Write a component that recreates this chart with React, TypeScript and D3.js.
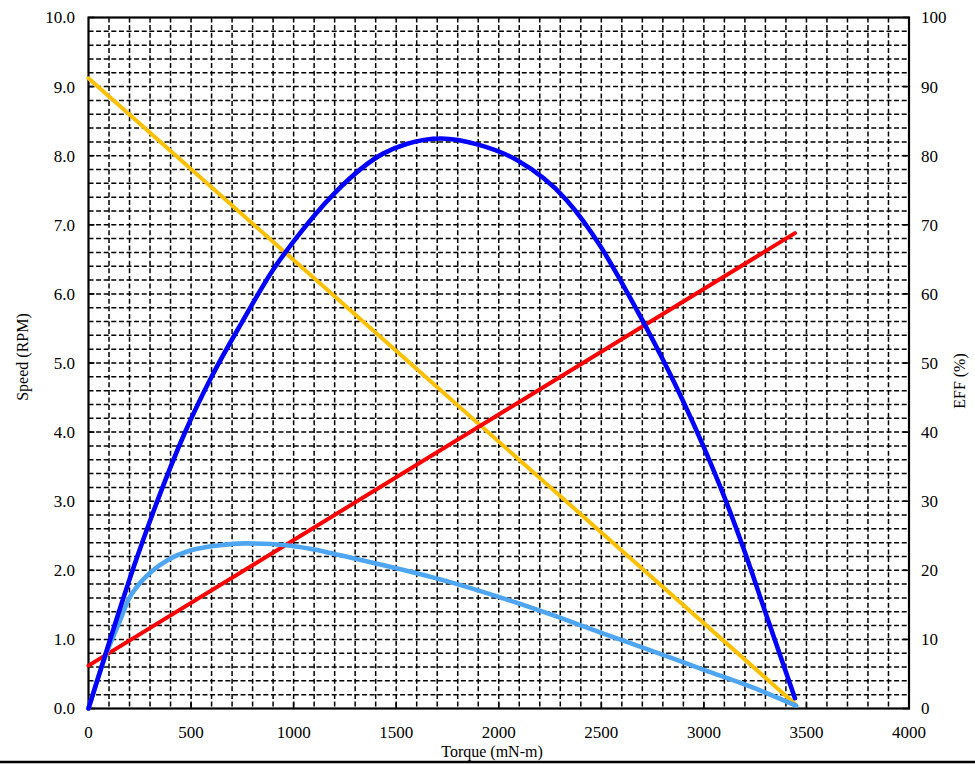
import React, { useEffect, useRef } from 'react';
import * as d3 from 'd3';

// torque (mN-m) values
const speedTorque = [0, 3450];
const speedValues = [9.12, 0.05];

const currentTorque = [0, 3444];
const currentValues = [0.62, 6.88];

const effTorque = [0, 78, 143, 224, 314, 468, 600, 750, 900, 1000, 1200, 1436, 1550, 1720, 1900, 2086, 2330, 2500, 2600, 2700, 2800, 2900, 3000, 3100, 3200, 3300, 3444];
const effValues = [0, 7.4, 13.5, 20.8, 28.3, 39.8, 48.0, 56.0, 63.5, 67.6, 74.6, 80.3, 81.7, 82.5, 81.6, 79.4, 73.6, 66.7, 61.6, 56.2, 50.5, 44.4, 37.8, 30.6, 22.6, 13.9, 1.5];

const powerTorque = [0, 80, 160, 192, 241, 306, 387, 501, 631, 761, 891, 1021, 1151, 1281, 1444, 1750, 2000, 2250, 2500, 2750, 3000, 3250, 3450];
const powerValues = [0, 0.74, 1.32, 1.56, 1.78, 1.98, 2.15, 2.29, 2.36, 2.39, 2.38, 2.34, 2.27, 2.18, 2.07, 1.84, 1.615, 1.365, 1.095, 0.83, 0.56, 0.29, 0.04];

const torqueTicks = [0, 500, 1000, 1500, 2000, 2500, 3000, 3500, 4000];
const speedTicks = [0, 1, 2, 3, 4, 5, 6, 7, 8, 9, 10];
const effTicks = [0, 10, 20, 30, 40, 50, 60, 70, 80, 90, 100];

const W = 975;
const H = 764;
const plot = { left: 88.5, right: 909, top: 17.5, bottom: 708.5 };
const FONT = '"Liberation Serif", "Times New Roman", serif';

const drawChart = (svgEl: SVGSVGElement) => {
    const svg = d3.select(svgEl);
    svg.selectAll('*').remove();

    const x = d3.scaleLinear().domain([0, 4000]).range([plot.left, plot.right]);
    const yL = d3.scaleLinear().domain([0, 10]).range([plot.bottom, plot.top]);
    const yR = d3.scaleLinear().domain([0, 100]).range([plot.bottom, plot.top]);

    svg.append('rect').attr('width', W).attr('height', H).attr('fill', '#fff');

    // --- dashed grid ---
    const grid = svg.append('g')
        .attr('stroke', '#000')
        .attr('stroke-width', 1.5)
        .attr('stroke-dasharray', '5,2.6');

    grid.selectAll('.vg')
        .data(d3.range(100, 4000, 100))
        .enter()
        .append('line')
        .attr('x1', d => x(d)).attr('x2', d => x(d))
        .attr('y1', plot.top).attr('y2', plot.bottom);

    grid.selectAll('.hg')
        .data(d3.range(1, 50).map(i => i * 0.2))
        .enter()
        .append('line')
        .attr('x1', plot.left).attr('x2', plot.right)
        .attr('y1', d => yL(d)).attr('y2', d => yL(d));

    // --- inward major ticks ---
    const ticks = svg.append('g').attr('stroke', '#000').attr('stroke-width', 1.6);
    speedTicks.forEach(v => {
        ticks.append('line').attr('x1', plot.left).attr('x2', plot.left + 6).attr('y1', yL(v)).attr('y2', yL(v));
        ticks.append('line').attr('x1', plot.right - 6).attr('x2', plot.right).attr('y1', yL(v)).attr('y2', yL(v));
    });
    torqueTicks.forEach(v => {
        ticks.append('line').attr('x1', x(v)).attr('x2', x(v)).attr('y1', plot.bottom).attr('y2', plot.bottom - 6);
    });

    // --- frame ---
    svg.append('rect')
        .attr('x', plot.left).attr('y', plot.top)
        .attr('width', plot.right - plot.left)
        .attr('height', plot.bottom - plot.top)
        .attr('fill', 'none')
        .attr('stroke', '#000')
        .attr('stroke-width', 2.2);

    // --- series ---
    const addLine = (
        xs: number[], ys: number[], yScale: d3.ScaleLinear<number, number>,
        color: string, width: number, curve: d3.CurveFactory,
    ) => {
        const pts = xs.map((t, i) => [t, ys[i]] as [number, number]);
        const line = d3.line<[number, number]>()
            .x(d => x(d[0]))
            .y(d => yScale(d[1]))
            .curve(curve);
        svg.append('path')
            .attr('d', line(pts) as string)
            .attr('fill', 'none')
            .attr('stroke', color)
            .attr('stroke-width', width)
            .attr('stroke-linecap', 'round')
            .attr('stroke-linejoin', 'round');
    };

    addLine(speedTorque, speedValues, yL, '#FFC000', 4, d3.curveLinear);
    addLine(currentTorque, currentValues, yL, '#FF0000', 4, d3.curveLinear);
    addLine(powerTorque, powerValues, yL, '#4EA6F2', 4.6, d3.curveMonotoneX);
    addLine(effTorque, effValues, yR, '#0000FF', 4.6, d3.curveMonotoneX);

    // --- tick labels ---
    const labels = svg.append('g')
        .style('font-family', FONT)
        .style('font-size', '17px')
        .style('fill', '#000');

    speedTicks.forEach(v => {
        labels.append('text')
            .attr('x', 75).attr('y', yL(v))
            .attr('dy', '0.35em')
            .attr('text-anchor', 'end')
            .text(v.toFixed(1));
    });
    effTicks.forEach(v => {
        labels.append('text')
            .attr('x', 921).attr('y', yR(v))
            .attr('dy', '0.35em')
            .attr('text-anchor', 'start')
            .text(String(v));
    });
    torqueTicks.forEach(v => {
        labels.append('text')
            .attr('x', x(v)).attr('y', 738)
            .attr('text-anchor', 'middle')
            .text(String(v));
    });

    // --- axis titles ---
    const titles = svg.append('g')
        .style('font-family', FONT)
        .style('font-size', '16px')
        .style('fill', '#000');

    titles.append('text')
        .attr('transform', 'translate(28, 357) rotate(-90)')
        .attr('text-anchor', 'middle')
        .text('Speed (RPM)');

    titles.append('text')
        .attr('transform', 'translate(965, 381) rotate(-90)')
        .attr('text-anchor', 'middle')
        .text('EFF (%)');

    titles.append('text')
        .attr('x', 492).attr('y', 757)
        .attr('text-anchor', 'middle')
        .text('Torque (mN-m)');

    // bottom rule across the page
    svg.append('line')
        .attr('x1', 0).attr('x2', W)
        .attr('y1', 762).attr('y2', 762)
        .attr('stroke', '#000')
        .attr('stroke-width', 2.5);
};

const App: React.FC = () => {
    const svgRef = useRef<SVGSVGElement | null>(null);

    useEffect(() => {
        if (svgRef.current) drawChart(svgRef.current);
    }, []);

    return (
        <svg
            ref={svgRef}
            width={W}
            height={H}
            viewBox={`0 0 ${W} ${H}`}
            style={{ position: 'absolute', left: 0, top: 0, display: 'block' }}
        />
    );
};

export default App;
